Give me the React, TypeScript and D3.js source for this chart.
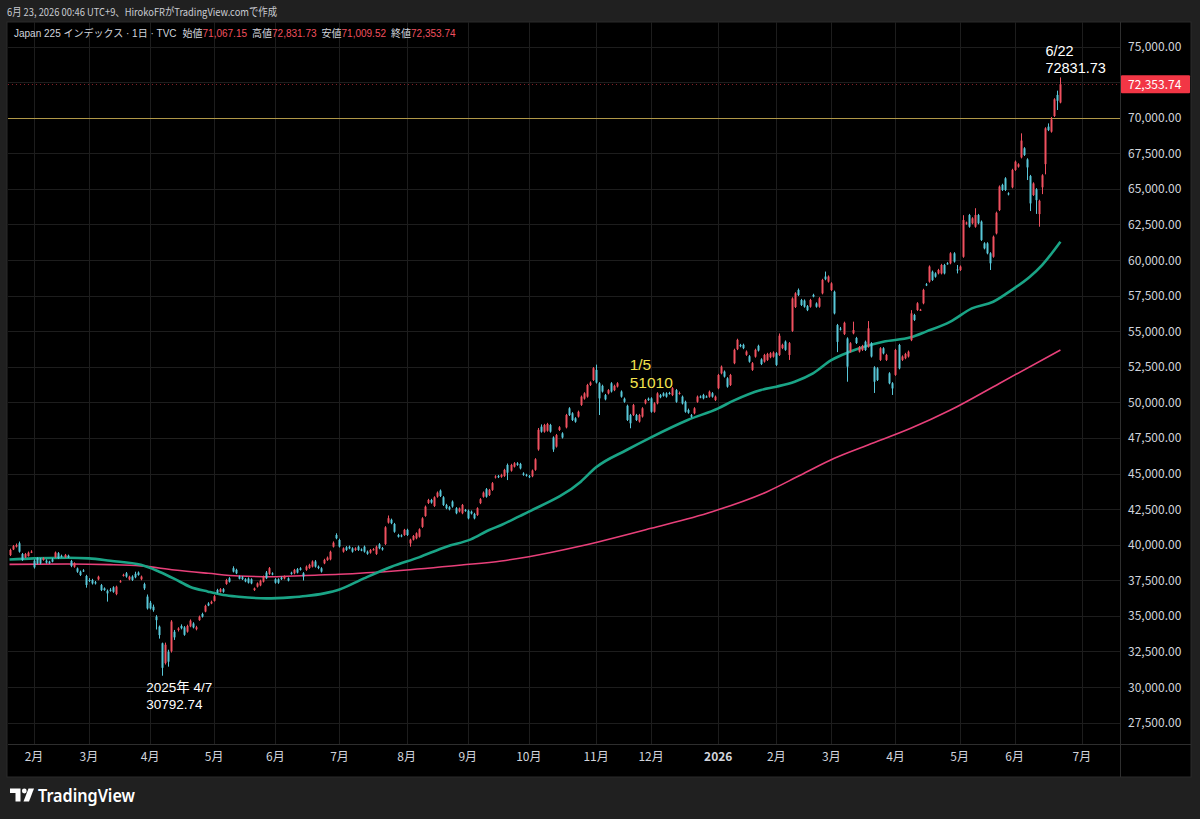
import * as d3 from "d3";

// Nikkei 225 daily candles, Japan colours: red = up, cyan = down
const START_DAY = "2025-01-22";
const LAST_DAY = "2026-07-20";
const MARKET_HOLIDAYS = [
  "2025-02-11", "2025-02-24", "2025-03-20", "2025-04-29", "2025-05-05", "2025-05-06",
  "2025-07-21", "2025-08-11", "2025-09-15", "2025-09-23", "2025-10-13", "2025-11-03",
  "2025-11-24", "2025-12-31", "2026-01-01", "2026-01-02", "2026-01-12", "2026-02-11",
  "2026-02-23", "2026-03-20", "2026-04-29", "2026-05-04", "2026-05-05", "2026-05-06",
];

// [open, high, low, close]
const CANDLES: [number, number, number, number][] = [
  [39270, 39720, 39200, 39630], [39670, 39980, 39620, 39900], [39860, 40080, 39800, 39980], [40100, 40220, 39440, 39510],
  [39340, 39420, 38860, 38920], [39110, 39420, 39060, 39340], [39200, 39520, 39160, 39440], [39490, 39610, 39410, 39510],
  [38880, 38970, 38320, 38410], [39050, 39120, 38620, 38690], [38970, 39070, 38620, 38690], [38930, 39120, 38870, 39050],
  [38880, 38970, 38670, 38740], [38810, 38870, 38650, 38700], [38970, 39050, 38760, 38810], [39120, 39520, 39070, 39450],
  [39400, 39480, 38990, 39050], [39220, 39300, 39100, 39190], [39120, 39350, 39080, 39280], [39230, 39300, 39060, 39120],
  [38850, 38930, 38420, 38500], [38450, 38760, 38380, 38690], [38330, 38400, 38020, 38100], [38100, 38180, 37800, 37870],
  [38190, 38280, 38080, 38140], [37800, 37880, 36980, 37170], [37520, 37650, 37380, 37480], [37520, 37600, 37200, 37280],
  [37360, 37450, 37200, 37280], [37560, 37820, 37500, 37750], [37160, 37240, 36740, 36810], [36930, 37000, 36760, 36810],
  [36760, 36850, 36000, 36580], [36830, 36950, 36700, 36800], [37000, 37080, 36620, 36690], [36530, 37120, 36450, 37050],
  [37400, 37520, 37330, 37430], [37830, 37960, 37760, 37880], [37990, 38080, 37680, 37760], [37560, 37820, 37500, 37750],
  [37760, 37850, 37450, 37520], [37950, 38100, 37640, 37710], [38040, 38120, 37820, 37880], [37570, 37830, 37500, 37760],
  [37230, 37330, 36820, 36930], [36350, 36500, 35440, 35520], [35920, 36050, 35450, 35520], [35640, 35790, 35290, 35400],
  [34940, 35050, 34040, 34700], [34240, 34320, 33400, 33650], [33070, 33120, 30792.74, 31350], [31680, 33120, 31580, 32970],
  [32470, 32620, 31430, 31780], [32520, 34700, 32420, 34600], [33880, 34010, 33310, 33490], [34010, 34200, 33900, 34110],
  [34290, 34400, 34050, 34130], [34190, 34280, 33600, 33670], [33890, 34380, 33820, 34290], [34260, 34750, 34200, 34660],
  [34460, 34550, 34120, 34190], [34060, 34300, 33980, 34200], [34700, 35020, 34650, 34940], [35130, 35220, 34880, 34940],
  [35300, 35780, 35250, 35700], [35870, 35960, 35680, 35730], [35870, 36070, 35820, 35990], [36050, 36460, 36000, 36380],
  [36820, 36900, 36580, 36640], [36690, 36950, 36640, 36870], [36870, 36950, 36620, 36690], [37240, 37600, 37180, 37520],
  [37640, 37720, 37340, 37400], [38350, 38480, 38050, 38110], [38230, 38310, 37930, 37990], [37760, 37840, 37560, 37610],
  [37710, 37800, 37520, 37580], [37570, 37650, 37360, 37420], [37620, 37700, 37270, 37330], [37570, 37640, 37220, 37280],
  [36810, 36990, 36750, 36930], [37050, 37350, 36990, 37280], [37140, 37540, 37080, 37470], [37400, 37830, 37340, 37760],
  [38040, 38150, 37580, 37640], [37950, 38430, 37880, 38350], [37980, 38060, 37850, 37910], [37570, 37650, 37260, 37330],
  [37570, 37640, 37250, 37330], [37680, 37760, 37520, 37580], [37630, 37840, 37560, 37760], [37630, 37700, 37420, 37480],
  [38030, 38100, 37890, 37950], [37990, 38300, 37920, 38230], [38280, 38360, 37980, 38040], [38340, 38420, 38180, 38230],
  [37990, 38070, 37480, 37760], [38230, 38540, 38160, 38460], [38360, 38660, 38300, 38580], [38460, 38900, 38400, 38820],
  [38820, 38920, 38390, 38460], [38460, 38540, 38280, 38360], [38340, 38420, 38040, 38110], [38690, 39010, 38630, 38930],
  [38920, 39170, 38860, 39090], [38970, 39580, 38900, 39500], [39860, 40230, 39800, 40140], [40680, 40800, 40380, 40450],
  [40330, 40420, 39800, 39870], [39510, 39810, 39440, 39740], [39820, 39900, 39560, 39630], [39860, 39940, 39680, 39740],
  [39740, 39820, 39440, 39510], [39630, 39820, 39560, 39740], [39860, 39940, 39560, 39630], [39660, 39740, 39540, 39610],
  [39860, 39940, 39440, 39510], [39510, 39590, 39290, 39360], [39440, 39700, 39370, 39630], [39650, 39760, 39580, 39680],
  [39350, 39940, 39280, 39860], [40030, 40110, 39680, 39750], [39760, 39840, 39580, 39660], [40050, 41300, 39980, 41220],
  [41550, 42050, 41480, 41860], [41750, 41830, 41440, 41510], [41450, 41530, 40840, 40910], [40680, 40760, 40500, 40560],
  [40650, 40730, 40520, 40600], [40680, 41110, 40620, 41040], [41040, 41120, 40610, 40680], [40090, 40420, 39860, 40350],
  [40350, 40680, 40290, 40610], [40450, 40870, 40380, 40800], [40560, 41150, 40500, 41080], [41250, 41930, 41180, 41850],
  [42020, 42750, 41960, 42670], [42930, 43220, 42860, 43140], [43140, 43220, 42880, 42960], [42720, 43400, 42650, 43330],
  [43370, 43740, 43300, 43660], [43800, 43880, 43350, 43420], [43330, 43410, 42720, 42790], [42790, 42870, 42490, 42560],
  [42630, 42710, 42410, 42480], [43030, 43110, 42600, 42680], [42560, 42640, 42140, 42210], [42340, 42610, 42270, 42540],
  [42210, 42860, 42140, 42790], [42430, 42510, 42310, 42380], [42390, 42470, 41780, 41850], [42320, 42400, 42120, 42190],
  [42160, 42240, 41780, 41850], [42090, 42630, 42020, 42560], [42920, 43270, 42850, 43190], [43370, 43740, 43300, 43660],
  [43900, 43980, 43300, 43370], [43490, 43920, 43420, 43850], [43850, 44400, 43780, 44320], [44720, 44880, 44650, 44790],
  [44820, 44900, 44680, 44740], [44770, 44980, 44700, 44900], [44830, 45330, 44760, 45250], [45600, 45700, 44540, 45060],
  [45200, 45680, 45130, 45600], [45480, 45800, 45420, 45720], [45710, 45800, 45540, 45610], [45670, 45750, 45290, 45360],
  [45000, 45090, 44840, 44910], [44910, 44980, 44780, 44860], [44810, 44900, 44680, 44760], [44810, 45280, 44740, 45210],
  [45260, 46080, 45190, 46000], [46690, 48200, 46600, 48070], [48290, 48450, 47870, 47940], [47940, 48490, 47870, 48410],
  [48010, 48560, 47940, 48480], [48410, 48490, 47870, 47940], [47530, 47610, 46520, 46690], [46890, 47780, 46820, 47700],
  [48060, 48330, 47990, 48250], [47820, 47900, 47460, 47530], [48240, 49190, 48170, 49110], [49580, 49660, 49040, 49110],
  [49230, 49310, 48690, 48760], [48880, 48960, 48570, 48640], [49000, 49420, 48930, 49340], [49820, 50480, 49750, 50400],
  [50260, 50710, 50190, 50630], [50400, 51300, 50330, 51220], [51220, 51470, 51150, 51390], [51570, 52480, 51500, 52400],
  [52280, 52650, 51320, 51390], [51340, 51420, 49110, 50280], [51160, 51240, 50690, 50760], [50510, 50590, 50140, 50210],
  [50630, 50930, 50560, 50860], [51340, 51420, 50690, 50760], [50860, 51240, 50790, 51160], [51110, 51420, 51040, 51340],
  [50760, 50840, 50330, 50400], [50260, 50340, 49970, 50040], [49760, 49840, 48690, 48760], [49110, 49190, 48180, 48530],
  [49110, 49890, 49040, 49810], [49110, 49190, 48690, 48760], [48650, 49190, 48580, 49110], [49000, 49660, 48930, 49580],
  [49930, 50240, 49860, 50160], [50260, 50340, 50100, 50160], [50280, 50360, 49270, 49340], [49340, 50010, 49270, 49930],
  [49930, 50710, 49860, 50630], [50510, 50590, 50290, 50360], [50630, 50710, 50400, 50460], [50630, 50710, 50330, 50400],
  [50660, 50740, 50540, 50610], [50510, 51070, 50440, 50990], [50860, 50940, 49970, 50040], [50610, 50760, 50540, 50660],
  [50400, 50480, 49850, 49920], [50040, 50120, 49270, 49340], [49460, 49560, 49200, 49270], [49100, 49180, 48920, 48990],
  [49230, 49660, 49160, 49580], [50040, 50480, 49970, 50400], [50410, 50490, 50290, 50360], [50520, 50600, 50210, 50280],
  [50410, 50490, 50320, 50390], [50400, 50830, 50330, 50750], [50640, 50720, 50330, 50400], [50160, 50480, 50090, 50400],
  [50990, 52000, 50920, 51920], [52040, 52590, 51970, 52510], [52160, 52240, 51740, 51810], [51690, 51770, 51030, 51100],
  [51220, 52000, 51150, 51920], [52750, 53770, 52680, 53690], [53740, 54470, 53670, 54390], [54030, 54110, 53870, 53940],
  [54040, 54120, 53740, 53810], [53340, 53650, 53270, 53570], [53240, 53320, 52790, 52860], [52280, 52830, 52210, 52750],
  [53210, 53770, 53140, 53690], [53970, 54050, 53570, 53640], [53020, 53100, 52620, 52690], [52860, 53410, 52790, 53330],
  [52980, 53480, 52910, 53400], [53170, 53530, 53100, 53450], [53210, 53580, 53140, 53500], [53450, 53530, 52560, 52630],
  [53330, 54840, 53260, 54680], [53810, 54120, 53740, 54040], [54270, 54350, 53620, 53690], [53330, 54240, 52980, 54160],
  [55020, 57380, 54950, 57300], [56700, 57740, 56630, 57660], [57900, 58000, 57470, 57540], [57190, 57270, 56770, 56840],
  [57150, 57230, 56650, 56720], [56760, 56840, 56410, 56480], [56720, 57270, 56650, 57190], [57550, 57630, 57380, 57430],
  [56950, 57030, 56650, 56720], [56720, 57390, 56650, 57310], [57660, 58680, 57590, 58600], [58840, 59190, 58580, 58650],
  [58480, 58920, 58410, 58840], [57890, 58440, 57820, 58360], [57770, 57850, 56180, 56250], [55430, 55510, 53530, 54250],
  [55180, 55300, 55050, 55150], [54800, 55670, 54730, 55590], [54490, 54570, 51450, 52510], [53570, 54230, 53500, 54150],
  [54850, 55670, 54780, 55080], [54520, 54600, 54100, 54170], [53570, 53960, 53500, 53880], [53680, 54040, 53610, 53960],
  [54260, 54340, 53610, 53680], [53910, 55710, 53840, 55200], [54150, 54230, 53150, 53220], [52460, 52540, 50660, 51450],
  [52390, 52470, 51500, 51570], [52980, 53880, 52910, 53800], [53800, 53880, 53370, 53440], [52980, 53410, 52910, 53330],
  [52040, 52120, 51270, 51340], [51340, 51420, 50520, 50980], [51930, 53760, 51860, 53680], [54030, 54110, 52320, 52390],
  [52980, 53300, 52910, 53220], [53100, 53480, 53030, 53400], [53220, 53640, 53150, 53560], [54370, 56480, 54300, 56250],
  [56140, 56220, 55720, 55790], [56490, 57040, 56420, 56960], [56490, 56570, 56420, 56510], [56960, 57980, 56890, 57900],
  [58290, 58380, 58170, 58250], [58480, 59620, 58410, 59540], [59180, 59260, 58530, 58600], [59060, 59140, 58760, 58830],
  [59060, 59380, 58990, 59300], [59060, 59730, 58990, 59650], [59650, 59730, 58990, 59060], [59770, 59850, 59670, 59730],
  [59770, 60550, 59700, 60470], [60470, 60550, 59820, 59890], [59340, 59650, 59060, 59300], [59300, 59620, 59230, 59540],
  [60230, 63150, 60160, 62810], [62580, 62700, 62480, 62630], [63160, 63240, 62270, 62340], [62580, 63010, 62510, 62930],
  [62340, 63640, 62270, 63160], [63160, 63240, 62510, 62580], [62700, 62780, 61340, 61410], [61170, 61250, 60750, 60820],
  [61170, 61250, 60400, 60470], [60470, 60550, 59300, 59770], [60230, 61720, 60160, 61640], [61870, 63400, 61800, 63320],
  [63510, 65240, 63440, 65160], [65280, 65360, 64850, 64920], [65740, 65820, 64850, 64920], [64680, 64760, 64540, 64620],
  [65110, 66410, 65040, 66330], [66330, 66990, 66260, 66910], [66560, 66800, 66490, 66720], [67210, 68900, 67140, 68390],
  [67850, 67930, 67310, 67380], [67070, 67150, 65620, 66510], [65900, 65980, 63440, 63980], [64570, 65460, 64500, 65380],
  [64970, 65050, 63240, 64210], [63230, 64240, 62340, 64160], [65110, 66030, 64630, 65950], [66740, 69330, 66020, 69250],
  [69370, 69600, 69060, 69130], [69020, 70050, 68950, 69880], [70120, 71370, 70050, 71290], [71600, 71900, 70540, 71190],
  [71067.15, 72831.73, 71009.52, 72353.74],
];

// moving averages: [bar index, value]
const MA_FAST: [number, number][] = [
  [0, 38960], [8, 39040], [19, 39080], [26, 39040], [33, 38870], [43, 38590], [49, 38100], [54, 37600],
  [59, 37050], [65, 36700], [70, 36460], [75, 36340], [84, 36230], [92, 36300], [97, 36390], [103, 36580],
  [108, 36850], [116, 37630], [125, 38450], [134, 39110], [143, 39860], [151, 40370], [157, 41030], [161, 41383],
  [167, 42010], [170, 42320], [187, 44428], [192, 45435], [202, 46653], [210, 47543], [222, 48761], [232, 49580],
  [237, 50119], [246, 50868], [251, 51103], [257, 51454], [263, 52040], [269, 52970], [275, 53550], [286, 54260],
  [295, 54570], [300, 54970], [308, 55670], [315, 56600], [322, 57070], [328, 57890], [334, 58830], [338, 59650],
  [344, 61290],
];
const MA_SLOW: [number, number][] = [
  [0, 38620], [19, 38640], [33, 38600], [43, 38510], [54, 38220], [65, 37990], [75, 37800], [86, 37750],
  [97, 37840], [108, 37920], [127, 38170], [148, 38570], [161, 38854], [170, 39158], [187, 39908], [210, 41149],
  [230, 42320], [248, 43726], [259, 44896], [270, 46067], [281, 47004], [295, 48175], [308, 49460], [324, 51330],
  [344, 53680],
];

const PRICE_TICKS = [27500, 30000, 32500, 35000, 37500, 40000, 42500, 45000, 47500, 50000, 52500, 55000, 57500, 60000, 62500, 65000, 67500, 70000, 72500, 75000];
const LEVEL_LINE = 70000;

const HEADER = "6月 23, 2026 00:46 UTC+9、HirokoFRがTradingView.comで作成";
const SYMBOL = "Japan 225 インデックス · 1日 · TVC";
const OHLC_NAMES = ["始値", "高値", "安値", "終値"];
const JAN5_NOTE = { i: 203, v: 51010, label: "1/5" };

const UP = "#f0505f";
const DOWN = "#58c7d8";
const FONT = "'Noto Sans CJK JP', 'Noto Sans', sans-serif";
const NOTE_FONT = "'Liberation Sans', 'Noto Sans CJK JP', sans-serif";

function tradingDays() {
  const out: Date[] = [];
  const off = new Set(MARKET_HOLIDAYS);
  const end = new Date(LAST_DAY + "T00:00:00Z");
  for (let d = new Date(START_DAY + "T00:00:00Z"); d <= end; d = new Date(d.getTime() + 86400000)) {
    const wd = d.getUTCDay();
    if (wd === 0 || wd === 6) continue;
    if (off.has(d.toISOString().slice(0, 10))) continue;
    out.push(d);
  }
  return out;
}

export default function App() {
  const W = 1200, H = 819;
  const left = 8, right = 1120, top = 22, bottom = 744, axisR = 1191, axisB = 777;

  const x = d3.scaleLinear().domain([-0.5, 363.5]).range([left, right]);
  const y = d3.scaleLinear().domain([25996, 76724]).range([bottom, top]);

  const days = tradingDays();
  const monthTicks: { i: number; label: string; bold: boolean }[] = [];
  days.forEach((d, i) => {
    if (i === 0) return;
    if (d.getUTCMonth() !== days[i - 1].getUTCMonth()) {
      const m = d.getUTCMonth() + 1;
      monthTicks.push({ i, label: m === 1 ? String(d.getUTCFullYear()) : `${m}月`, bold: m === 1 });
    }
  });
  const visTicks = monthTicks.filter(t => x(t.i) < right - 10);

  const line = d3.line<[number, number]>().x(d => x(d[0])).y(d => y(d[1])).curve(d3.curveMonotoneX);
  const fmt = d3.format(",.2f");
  const last = CANDLES[CANDLES.length - 1];
  const lastI = CANDLES.length - 1;
  const lowI = CANDLES.findIndex(c => c[2] === d3.min(CANDLES, k => k[2]));
  const low = CANDLES[lowI][2];
  const high = last[1];
  const legendVals = [last[0], last[1], last[2], last[3]];

  return (
    <div style={{ position: "fixed", left: 0, top: 0, width: W, height: H, background: "#202020" }}>
      <svg width={W} height={H} style={{ display: "block", fontFamily: FONT }}>
        <rect x={0} y={0} width={W} height={H} fill="#202020" />
        <text x={7} y={16} fontSize={11} fill="#c9cbd1" textLength={270} lengthAdjust="spacingAndGlyphs">{HEADER}</text>

        {/* panel */}
        <rect x={left - 1} y={top} width={axisR - left + 1} height={axisB - top} fill="#000" stroke="#2a2a2a" />
        <defs>
          <clipPath id="plot">
            <rect x={left} y={top} width={right - left} height={bottom - top} />
          </clipPath>
        </defs>

        {/* grid */}
        <g stroke="#1d1d1d" strokeWidth={1}>
          {PRICE_TICKS.map(v => (
            <line key={v} x1={left} x2={right} y1={Math.round(y(v)) + 0.5} y2={Math.round(y(v)) + 0.5} />
          ))}
          {visTicks.map(t => (
            <line key={t.i} x1={Math.round(x(t.i)) + 0.5} x2={Math.round(x(t.i)) + 0.5} y1={top} y2={bottom} />
          ))}
        </g>

        <g clipPath="url(#plot)">
          <line x1={left} x2={right} y1={Math.round(y(LEVEL_LINE)) + 0.5} y2={Math.round(y(LEVEL_LINE)) + 0.5} stroke="#b09848" strokeWidth={1} />
          <line x1={left} x2={right} y1={Math.round(y(last[3])) + 0.5} y2={Math.round(y(last[3])) + 0.5} stroke="#f23645" strokeOpacity={0.55} strokeDasharray="1 3" />

          <path d={line(MA_SLOW) || ""} fill="none" stroke="#e8407a" strokeWidth={1.6} />
          <path d={line(MA_FAST) || ""} fill="none" stroke="#1aa486" strokeWidth={2.6} />

          {CANDLES.map(([o, h, l, c], i) => {
            const cx = Math.round(x(i));
            const col = c >= o ? UP : DOWN;
            const yt = y(Math.max(o, c)), yb = y(Math.min(o, c));
            return (
              <g key={i}>
                <line x1={cx + 0.5} x2={cx + 0.5} y1={y(h)} y2={y(l)} stroke={col} strokeWidth={1} />
                <rect x={cx - 0.5} y={yt} width={2} height={Math.max(1, yb - yt)} fill={col} />
              </g>
            );
          })}
        </g>

        {/* annotations */}
        <g fontFamily={NOTE_FONT}>
          <text x={x(lastI) - 15} y={y(high) - 21} fill="#ffffff" fontSize={14.5}>6/22</text>
          <text x={x(lastI) - 15} y={y(high) - 4} fill="#ffffff" fontSize={14.5}>{String(high)}</text>
          <text x={x(lowI) - 16} y={y(low) + 16} fill="#ffffff" fontSize={13.5}>2025年 4/7</text>
          <text x={x(lowI) - 16} y={y(low) + 33} fill="#ffffff" fontSize={13.5}>{String(low)}</text>
          <text x={x(JAN5_NOTE.i)} y={y(JAN5_NOTE.v) - 17.5} fill="#f3e34e" fontSize={15.5}>{JAN5_NOTE.label}</text>
          <text x={x(JAN5_NOTE.i)} y={y(JAN5_NOTE.v)} fill="#f3e34e" fontSize={15.5}>{String(JAN5_NOTE.v)}</text>
        </g>

        {/* legend */}
        <text x={14} y={37} fontSize={10} fill="#d1d4dc" fontFamily={NOTE_FONT}>
          {SYMBOL}
          {OHLC_NAMES.map((n, k) => (
            <tspan key={n}>
              <tspan dx={k === 0 ? 6 : 5}>{n}</tspan>
              <tspan fill="#f0505f">{fmt(legendVals[k])}</tspan>
            </tspan>
          ))}
        </text>

        {/* right axis */}
        <line x1={right + 0.5} x2={right + 0.5} y1={top} y2={axisB} stroke="#2e2e2e" />
        {PRICE_TICKS.map(v => (
          <text key={v} x={1128} y={y(v) + 4.5} fontSize={12} fill="#d1d4dc">{fmt(v)}</text>
        ))}
        <rect x={right + 1} y={y(last[3]) - 9} width={axisR - right - 2} height={18} fill="#f23645" rx={1} />
        <text x={1128} y={y(last[3]) + 4.5} fontSize={12} fill="#ffffff">{fmt(last[3])}</text>

        {/* bottom axis */}
        <line x1={left} x2={axisR} y1={bottom + 0.5} y2={bottom + 0.5} stroke="#2e2e2e" />
        {visTicks.map(t => (
          <text key={t.i} x={x(t.i)} y={761} fontSize={12} fill="#d1d4dc" textAnchor="middle" fontWeight={t.bold ? 700 : 400}>{t.label}</text>
        ))}

        {/* TradingView mark */}
        <g fill="#ffffff">
          <path d="M10 788.5 h10.5 v13 h-5 v-8.5 h-5.5 z" />
          <circle cx={24.3} cy={791} r={2.4} />
          <path d="M28.5 788.5 h5.5 l-5 13 h-5.5 z" />
          <text x={38} y={801.5} fontSize={17} fontWeight={600} fontFamily="'Noto Sans', sans-serif" textLength={97} lengthAdjust="spacingAndGlyphs">TradingView</text>
        </g>
      </svg>
    </div>
  );
}
